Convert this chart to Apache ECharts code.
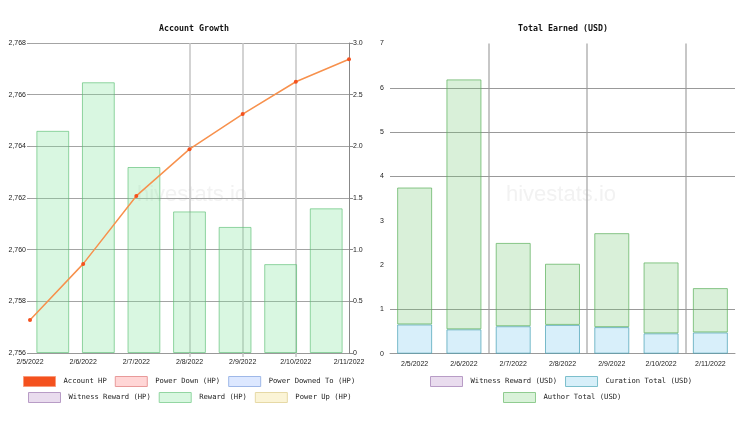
<!DOCTYPE html>
<html>
<head>
<meta charset="utf-8">
<script src="https://cdn.jsdelivr.net/npm/echarts@6/dist/echarts.min.js"></script>
<style>html,body{margin:0;padding:0;background:#fff}#c{width:749px;height:424px}</style>
</head>
<body>
<div id="c"></div>
<script>
var dates = ['2/5/2022','2/6/2022','2/7/2022','2/8/2022','2/9/2022','2/10/2022','2/11/2022'];
var accountHP = [2757.28, 2759.45, 2762.08, 2763.89, 2765.25, 2766.50, 2767.37];
var rewardHP = [2.15, 2.62, 1.80, 1.37, 1.22, 0.86, 1.40];
var curationUSD = [0.66, 0.55, 0.62, 0.65, 0.60, 0.46, 0.48];
var authorUSD = [3.09, 5.64, 1.88, 1.38, 2.12, 1.60, 1.00];
var usdGridValues = [1, 4, 5, 6];

var chart = echarts.init(document.getElementById('c'));
var axisFont = {fontFamily: 'Liberation Sans', fontSize: 7, color: '#222'};
var legendFont = {fontFamily: 'DejaVu Sans Mono', fontSize: 7.2, color: '#222', padding: [0,0,0,3]};
function lg(name, fill, border) {
  return {name: name, itemStyle: {color: fill, borderColor: border, borderWidth: 1}};
}
function emptySeries(name, xi, yi) {
  return {name: name, type: 'line', xAxisIndex: xi, yAxisIndex: yi, data: [], showSymbol: false};
}
function legendRow(left, top, data) {
  return {left: left, top: top, padding: 0, itemWidth: 32, itemHeight: 10, itemGap: 8, icon: 'rect',
          textStyle: legendFont, selectedMode: false, data: data};
}
chart.setOption({
  animation: false,
  title: [
    {text: 'Account Growth', left: 189, top: 20, textAlign: 'center',
     textStyle: {fontFamily: 'DejaVu Sans Mono', fontWeight: 'bold', fontSize: 8.3, color: '#111'}},
    {text: 'Total Earned (USD)', left: 558, top: 20, textAlign: 'center',
     textStyle: {fontFamily: 'DejaVu Sans Mono', fontWeight: 'bold', fontSize: 8.3, color: '#111'}}
  ],
  graphic: [
    {type: 'text', left: 137, top: 184, z: 0, silent: true,
     style: {text: 'hivestats.io', font: '22px "Liberation Sans"', fill: '#f2f2f2'}},
    {type: 'text', left: 506, top: 184, z: 0, silent: true,
     style: {text: 'hivestats.io', font: '22px "Liberation Sans"', fill: '#f2f2f2'}}
  ],
  legend: [
    legendRow(23, 376, [lg('Account HP', '#f4511e', '#f99a7a'), lg('Power Down (HP)', '#ffd6d6', '#e89a9a'),
                        lg('Power Downed To (HP)', '#dde8ff', '#9fb8e8')]),
    legendRow(28, 392, [lg('Witness Reward (HP)', '#e9dcee', '#b89cc6'), lg('Reward (HP)', '#d8f7e0', '#93d6a2'),
                        lg('Power Up (HP)', '#fbf4d6', '#e6d9a6')]),
    legendRow(430, 376, [lg('Witness Reward (USD)', '#e9dcee', '#b89cc6'), lg('Curation Total (USD)', '#d7eff9', '#7cbfcc')]),
    legendRow(503, 392, [lg('Author Total (USD)', '#d9f2d9', '#90cc90')])
  ],
  grid: [
    {left: 30, right: 400, top: 43, bottom: 71},
    {left: 390, right: 14, top: 43.5, bottom: 70.3}
  ],
  xAxis: [
    {type: 'category', gridIndex: 0, data: dates, boundaryGap: true, show: false, position: 'top'},
    {type: 'category', gridIndex: 0, data: dates, boundaryGap: false, position: 'bottom',
     axisLine: {show: true, lineStyle: {color: '#999', width: 1}},
     axisTick: {show: true, length: 4, interval: function (i) { return i >= 3 && i <= 5; },
                lineStyle: {color: '#c4c4c4', width: 1.5}},
     axisLabel: Object.assign({margin: 6, interval: 0}, axisFont),
     splitLine: {show: true, interval: function (i) { return i >= 3 && i <= 5; },
                 lineStyle: {color: '#c4c4c4', width: 1.5}}},
    {type: 'category', gridIndex: 1, data: dates, boundaryGap: true, position: 'bottom',
     axisLine: {show: true, lineStyle: {color: '#999', width: 1}},
     axisTick: {show: false},
     axisLabel: Object.assign({margin: 7, interval: 0}, axisFont),
     splitLine: {show: true, showMaxLine: false, interval: function (i) { return i === 2 || i === 4 || i === 6; },
                 lineStyle: {color: '#b4b4b4', width: 1.5}}}
  ],
  yAxis: [
    {type: 'value', gridIndex: 0, min: 2756, max: 2768, interval: 2, position: 'left',
     axisLine: {show: false}, axisTick: {show: true, length: 3, lineStyle: {color: '#999'}},
     axisLabel: Object.assign({margin: 4, formatter: function (v) { return v.toLocaleString('en-US'); }}, axisFont),
     splitLine: {show: true, lineStyle: {color: '#a4a4a4', width: 1}}},
    {type: 'value', gridIndex: 0, min: 0, max: 3, interval: 0.5, position: 'right',
     axisLine: {show: true, lineStyle: {color: '#888', width: 1}},
     axisTick: {show: true, length: 4, lineStyle: {color: '#888'}},
     axisLabel: Object.assign({margin: 4, formatter: function (v) { return v === 0 ? '0' : v.toFixed(1); }}, axisFont),
     splitLine: {show: false}},
    {type: 'value', gridIndex: 1, min: 0, max: 7, interval: 1,
     axisLine: {show: false}, axisTick: {show: false},
     axisLabel: Object.assign({margin: 6}, axisFont),
     splitLine: {show: false}}
  ],
  series: [
    {name: 'Reward (HP)', type: 'bar', xAxisIndex: 0, yAxisIndex: 1, data: rewardHP,
     barCategoryGap: '28%', z: 2,
     itemStyle: {color: 'rgba(130,230,155,0.3)', borderColor: 'rgba(90,190,115,0.65)', borderWidth: 1}},
    emptySeries('Power Down (HP)', 0, 1),
    emptySeries('Power Downed To (HP)', 0, 1),
    emptySeries('Witness Reward (HP)', 0, 1),
    emptySeries('Power Up (HP)', 0, 1),
    {name: 'Account HP', type: 'line', xAxisIndex: 1, yAxisIndex: 0, data: accountHP, z: 5,
     symbol: 'circle', symbolSize: 4, showSymbol: true,
     lineStyle: {color: '#f7914d', width: 1.5},
     itemStyle: {color: '#f4511e'}},
    {name: 'Curation Total (USD)', type: 'bar', xAxisIndex: 2, yAxisIndex: 2, data: curationUSD,
     stack: 'usd', barCategoryGap: '29%',
     itemStyle: {color: 'rgba(100,190,235,0.25)', borderColor: 'rgba(70,160,180,0.7)', borderWidth: 1},
     markLine: {silent: true, symbol: 'none', label: {show: false}, z: 1,
                lineStyle: {color: '#999', width: 1, type: 'solid'},
                data: usdGridValues.map(function (v) { return {yAxis: v}; })}},
    {name: 'Author Total (USD)', type: 'bar', xAxisIndex: 2, yAxisIndex: 2, data: authorUSD,
     stack: 'usd', barCategoryGap: '29%',
     itemStyle: {color: 'rgba(120,200,120,0.28)', borderColor: 'rgba(90,175,90,0.7)', borderWidth: 1}},
    emptySeries('Witness Reward (USD)', 2, 2)
  ]
});
</script>
</body>
</html>
